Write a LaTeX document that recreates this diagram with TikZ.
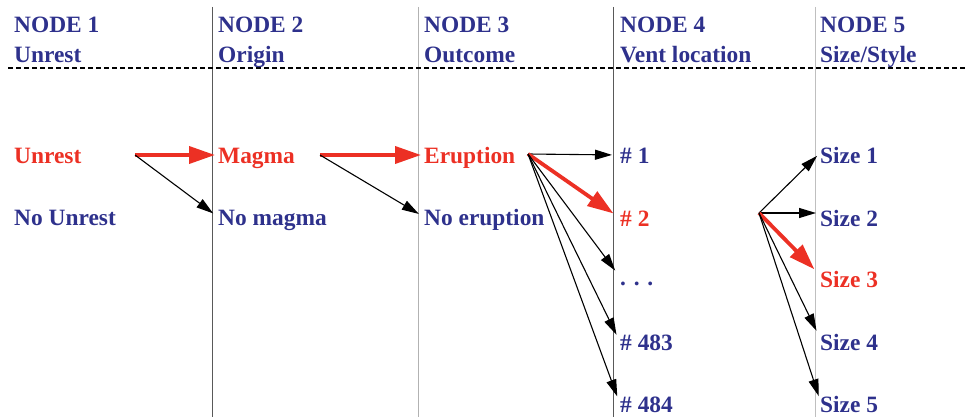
\documentclass[tikz,border=0pt]{standalone}
\usepackage{fontspec}
\setmainfont{Liberation Serif}
\usetikzlibrary{arrows.meta}
\definecolor{nodeblue}{RGB}{46,49,140}
\definecolor{pathred}{RGB}{236,48,36}

\begin{document}
\begin{tikzpicture}[x=1pt,y=-1pt,
    lab/.style={font=\fontsize{23.4}{28}\selectfont\bfseries, text=nodeblue,
                inner sep=0pt, anchor=base west, text height=16pt, text depth=0pt},
    hot/.style={lab, text=pathred},
    divider/.style={line width=0.9pt, draw=#1},
    divider/.default=gray,
    arr/.style={-{Triangle[length=17pt,width=10pt]}, line width=1.1pt, shorten >=#1},
    arr/.default=4pt,
    redarr/.style={-{Triangle[length=26pt,width=17pt]}, line width=3.8pt,
                   draw=pathred, shorten >=#1},
    redarr/.default=4pt
  ]
  \useasboundingbox (0,0) rectangle (968,417);

  % column dividers and header rule
  \draw[divider=black!65] (212,7) -- (212,417);
  \draw[divider=black!30] (418,7) -- (418,417);
  \draw[divider=black!65] (613,7) -- (613,417);
  \draw[divider=black!25] (815,7) -- (815,417);
  \draw[line width=1.3pt, dash pattern=on 5pt off 3pt] (8,68) -- (968,68);

  % headers
  \foreach \x/\n/\t in {14/1/Unrest, 218/2/Origin, 424/3/Outcome,
                        620/4/Vent location, 820/5/{Size/Style}} {
    \node[lab] (head\n) at (\x,33) {NODE \n};
    \node[lab] (sub\n) at (\x,63) {\t};
  }

  % outcomes
  \node[hot] (unrest) at (14,163) {Unrest};
  \node[lab] (nounrest) at (14,225) {No Unrest};
  \node[hot] (magma) at (218,163) {Magma};
  \node[lab] (nomagma) at (218,225) {No magma};
  \node[hot] (erupt) at (424,163) {Eruption};
  \node[lab] (noerupt) at (424,225) {No eruption};

  \node[lab] (v1) at (620,163) {\# 1};
  \node[hot] (v2) at (620,226) {\# 2};
  \node[lab] (v3) at (620,285) {. . .};
  \node[lab] (v483) at (620,350) {\# 483};
  \node[lab] (v484) at (620,412) {\# 484};

  \node[lab] (s1) at (820,163) {Size 1};
  \node[lab] (s2) at (820,226) {Size 2};
  \node[hot] (s3) at (820,287) {Size 3};
  \node[lab] (s4) at (820,350) {Size 4};
  \node[lab] (s5) at (820,412) {Size 5};

  % branch points
  \coordinate (fork1) at (135,155);
  \coordinate (fork2) at (320,155);
  \coordinate (fork3) at (528,154);
  \coordinate (fork4) at (759,213);

  \draw[redarr=3pt] (fork1) -- (magma.west);
  \draw[arr=6pt] (fork1) -- (nomagma.west);
  \draw[redarr=3pt] (fork2) -- (erupt.west);
  \draw[arr=6pt] (fork2) -- (noerupt.west);

  \draw[arr=8pt] (fork3) -- (v1.west);
  \draw[redarr=8pt] (fork3) -- (v2.west);
  \draw[arr=8pt] (fork3) -- (v3.west);
  \draw[arr=8pt] (fork3) -- (v483.west);
  \draw[arr=8pt] (fork3) -- (v484.west);

  \draw[arr] (fork4) -- ([yshift=2pt]s1.west);
  \draw[arr] (fork4) -- ([yshift=5pt]s2.west);
  \draw[redarr=8pt] (fork4) -- ([yshift=4pt]s3.west);
  \draw[arr=8pt] (fork4) -- ([yshift=4pt]s4.west);
  \draw[arr=4pt] (fork4) -- ([yshift=4pt]s5.west);
\end{tikzpicture}
\end{document}
